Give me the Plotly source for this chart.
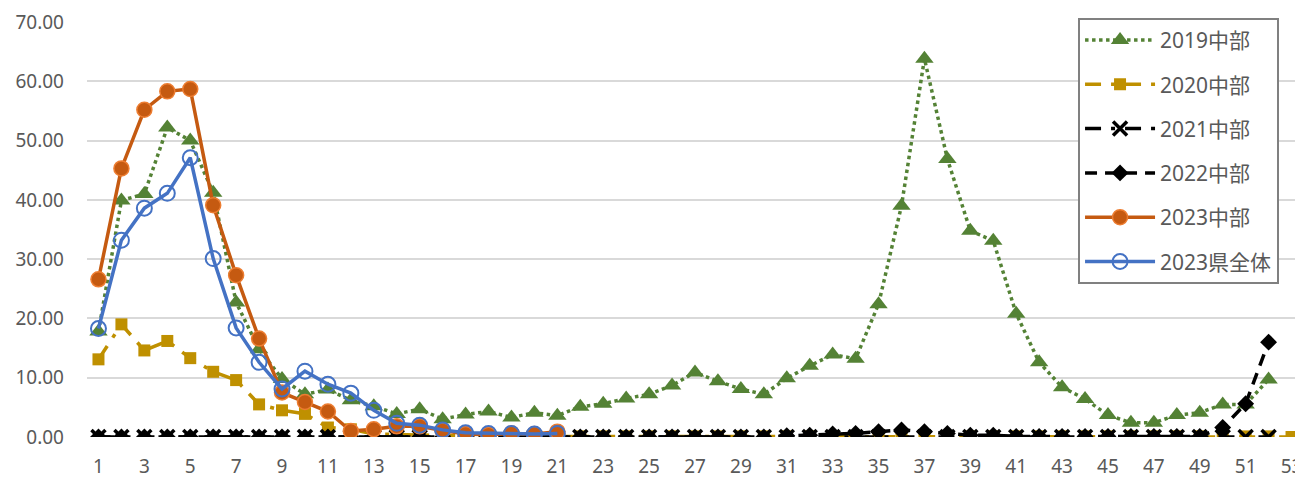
import plotly.graph_objects as go

weeks_2019 = list(range(1, 53))
y2019 = [17.8, 39.9, 41.0, 52.2, 50.0, 41.2, 22.7, 14.8, 9.8, 7.2, 8.0, 6.2, 5.2, 3.9,
         4.7, 3.0, 3.8, 4.3, 3.3, 4.1, 3.6, 5.1, 5.6, 6.5, 7.2, 8.7, 10.9, 9.4, 8.1, 7.2,
         9.9, 12.0, 13.9, 13.2, 22.4, 39.0, 63.8, 46.9, 34.8, 33.1, 20.8, 12.6, 8.4, 6.4,
         3.7, 2.4, 2.4, 3.7, 4.1, 5.5, 5.5, 9.7]

weeks_2020 = list(range(1, 54))
y2020 = [13.1, 19.0, 14.6, 16.2, 13.3, 11.0, 9.6, 5.5, 4.5, 3.9, 1.6, 1.3, 0.5, 0.4,
         0.3, 0.2] + [0.1] * 36 + [0.0]

weeks_2021 = list(range(1, 53))
y2021 = [0.0] * 52

weeks_2022 = list(range(1, 53))
y2022 = [0.0] * 30 + [0.2, 0.3, 0.5, 0.6, 0.9, 1.2, 0.9, 0.6, 0.3, 0.3,
                      0.1, 0.1, 0.1, 0.1, 0.1, 0.1, 0.1, 0.1, 0.1, 1.6, 5.6, 16.0]

weeks_2023 = list(range(1, 22))
y2023 = [26.6, 45.3, 55.2, 58.3, 58.7, 39.1, 27.3, 16.6, 7.5, 5.9, 4.3, 1.0, 1.3, 1.8,
         1.8, 1.1, 0.5, 0.4, 0.6, 0.5, 0.9]
y2023_pref = [18.3, 33.2, 38.6, 41.1, 47.1, 30.1, 18.4, 12.6, 8.1, 11.1, 8.9, 7.4, 4.5,
              2.3, 2.0, 1.2, 0.7, 0.6, 0.6, 0.5, 0.6]

names = ["2019中部", "2020中部", "2021中部", "2022中部", "2023中部", "2023県全体"]

fig = go.Figure()
fig.add_trace(go.Scatter(
    x=weeks_2019, y=y2019, name=names[0], mode="lines+markers", legendgroup="a",
    line=dict(color="#548235", width=3.5, dash="dot"),
    marker=dict(symbol="triangle-up", size=16, color="#548235")))
fig.add_trace(go.Scatter(
    x=weeks_2020, y=y2020, name=names[1], mode="lines+markers", legendgroup="b",
    line=dict(color="#BF9000", width=3.5, dash="16px,10px,4px,10px"),
    marker=dict(symbol="square", size=12, color="#BF9000")))
fig.add_trace(go.Scatter(
    x=weeks_2021, y=y2021, name=names[2], mode="lines+markers", legendgroup="c",
    line=dict(color="#000000", width=3.5, dash="16px,10px,4px,10px"),
    marker=dict(symbol="x-thin", size=14, color="#000000",
                line=dict(color="#000000", width=3.5))))
fig.add_trace(go.Scatter(
    x=weeks_2022, y=y2022, name=names[3], mode="lines+markers", legendgroup="d",
    line=dict(color="#000000", width=3.5, dash="12px,8px"),
    marker=dict(symbol="diamond", size=13, color="#000000")))
fig.add_trace(go.Scatter(
    x=weeks_2023, y=y2023, name=names[4], mode="lines+markers", legendgroup="e",
    line=dict(color="#C55A11", width=3.5),
    marker=dict(symbol="circle", size=15, color="#C55A11",
                line=dict(color="#ED7D31", width=1.5))))
fig.add_trace(go.Scatter(
    x=weeks_2023, y=y2023_pref, name=names[5], mode="lines+markers", legendgroup="f",
    line=dict(color="#4472C4", width=3.5),
    marker=dict(symbol="circle-open", size=15, color="#4472C4",
                line=dict(color="#4472C4", width=2))))

fig.update_layout(
    width=1295, height=471,
    margin=dict(l=79, r=0, t=14, b=42),
    paper_bgcolor="white", plot_bgcolor="white",
    font=dict(family="Noto Sans, Noto Sans CJK JP, sans-serif", color="#595959", size=19),
    xaxis=dict(range=[0.5, 53.5], tickmode="linear", tick0=1, dtick=2,
               showgrid=False, zeroline=False, showline=False, ticks="",
               tickfont=dict(size=19, color="#595959"), ticklabelstandoff=16,
               ticklabeloverflow="allow"),
    yaxis=dict(range=[0, 70], tickmode="linear", tick0=0, dtick=10, tickformat=".2f",
               showgrid=True, gridcolor="#D9D9D9", gridwidth=2, zeroline=False,
               showline=False, ticks="", tickfont=dict(size=19, color="#595959"),
               ticklabelstandoff=22),
    legend=dict(x=0.815, y=1.01, xanchor="left", yanchor="top",
                bgcolor="white", bordercolor="#808080", borderwidth=2,
                font=dict(size=21, color="#595959"), itemwidth=70,
                tracegroupgap=14, traceorder="grouped", maxheight=400),
    showlegend=True,
)

fig.write_html("out.html")
